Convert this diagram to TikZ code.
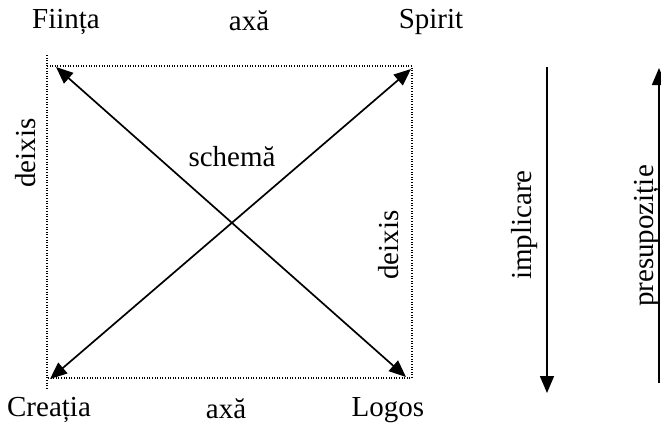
\documentclass[tikz,border=0pt]{standalone}
\usepackage{fontspec}
\setmainfont{Liberation Serif}
\usetikzlibrary{arrows.meta}

\begin{document}
\begin{tikzpicture}[x=0.5pt, y=-0.5pt,
  font=\fontsize{14.5}{16}\selectfont, >={Triangle[length=8.5pt,width=7pt]},
  lbl/.style={inner sep=0pt},
  vlbl/.style={lbl, rotate=90},
  frame/.style={line width=0.65pt, dash pattern=on 0.5pt off 0.8pt},
  flow/.style={<->, line width=0.85pt},
  dir/.style={->, line width=0.85pt},
]
\useasboundingbox (0,0) rectangle (661,424);
% corners of the square
\coordinate (tl) at (47,66);
\coordinate (tr) at (412,66);
\coordinate (br) at (412,378);
\coordinate (bl) at (47,378);
\coordinate (ltop) at (47,55);
\coordinate (lbot) at (47,388);
% arrow ends
\coordinate (a1) at (56,67);
\coordinate (a2) at (406,377);
\coordinate (a3) at (50,379);
\coordinate (a4) at (411,69);
\coordinate (i1) at (547,67);
\coordinate (i2) at (547,393);
\coordinate (p1) at (659,383);
\coordinate (p2) at (659,68);
% corner labels
\node[lbl] (fiinta) at (66,22) {Ființa};
\node[lbl] (axtop) at (249,21) {axă};
\node[lbl] (spirit) at (431,22) {Spirit};
\node[lbl] (creatia) at (49,410) {Creația};
\node[lbl] (axbot) at (226,409) {axă};
\node[lbl] (logos) at (388,410) {Logos};
\node[lbl] (schema) at (232,157) {schemă};
\node[vlbl] (deixl) at (26,153) {deixis};
\node[vlbl] (deixr) at (389,245) {deixis};
\node[vlbl] (impl) at (525,225) {implicare};
\node[vlbl] (pres) at (647,236) {presupoziție};
% dotted frame
\draw[frame] (tl) -- (tr) -- (br) -- (bl);
\draw[frame] (ltop) -- (lbot);
% diagonals
\draw[flow] (a1) -- (a2);
\draw[flow] (a3) -- (a4);
% side arrows
\draw[dir] (i1) -- (i2);
\draw[dir] (p1) -- (p2);
\end{tikzpicture}
\end{document}
